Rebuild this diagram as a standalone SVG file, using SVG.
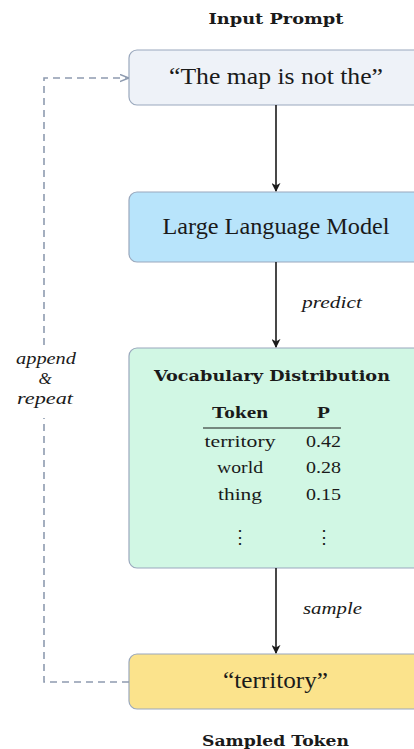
<svg xmlns="http://www.w3.org/2000/svg" width="414" height="749" viewBox="0 0 414 749">
<style>
text{font-family:"Liberation Serif","DejaVu Serif",serif;fill:#1a1a1a}
.lbl{font-family:"DejaVu Serif","Liberation Serif",serif;font-size:14px;font-weight:bold;text-anchor:middle}
.node{font-size:23px;text-anchor:middle}
.it{font-size:17px;font-style:italic}
.cell{font-size:17px;text-anchor:middle}
.dots{font-family:"DejaVu Serif",serif;font-size:18px;text-anchor:middle}
.box{stroke:#9aa8bd;stroke-width:1.2}
.edge{stroke:#1a1a1a;stroke-width:1.6;fill:none}
.loop{stroke:#8e9bb0;stroke-width:1.6;fill:none;stroke-dasharray:7 5}
</style>
<defs>
<marker id="ah" viewBox="0 0 10 10" refX="9" refY="5" markerWidth="9" markerHeight="9" markerUnits="userSpaceOnUse" orient="auto"><path d="M0,0 L10,5 L0,10 L3,5 Z" fill="#1a1a1a"/></marker>
<marker id="ahg" viewBox="0 0 10 10" refX="9" refY="5" markerWidth="9" markerHeight="9" markerUnits="userSpaceOnUse" orient="auto"><path d="M0,1 L10,5 L0,9" fill="none" stroke="#8e9bb0" stroke-width="1.6"/></marker>
</defs>
<text class="lbl" x="276" y="24" textLength="135" lengthAdjust="spacingAndGlyphs">Input Prompt</text>
<g id="prompt">
<rect class="box" x="129" y="50" width="300" height="55" rx="8" fill="#eef2f8"/>
<text class="node" x="276" y="84" textLength="214" lengthAdjust="spacingAndGlyphs">“The map is not the”</text>
</g>
<g id="llm">
<rect class="box" x="129" y="192" width="300" height="70" rx="8" fill="#b8e4fb"/>
<text class="node" x="276" y="234" textLength="227" lengthAdjust="spacingAndGlyphs">Large Language Model</text>
</g>
<g id="vocab">
<rect class="box" x="129" y="348" width="300" height="220" rx="8" fill="#d1f7e4"/>
<text class="lbl" x="272" y="381" textLength="236" lengthAdjust="spacingAndGlyphs">Vocabulary Distribution</text>
<text class="cell" x="240" y="418" font-weight="bold" textLength="56" lengthAdjust="spacingAndGlyphs">Token</text>
<text class="cell" x="323.5" y="418" font-weight="bold" textLength="13" lengthAdjust="spacingAndGlyphs">P</text>
<line x1="203" y1="428" x2="341" y2="428" stroke="#1a1a1a" stroke-width="1"/>
<text class="cell" x="240" y="447" textLength="71" lengthAdjust="spacingAndGlyphs">territory</text>
<text class="cell" x="323.5" y="447" textLength="35" lengthAdjust="spacingAndGlyphs">0.42</text>
<text class="cell" x="240" y="473" textLength="46" lengthAdjust="spacingAndGlyphs">world</text>
<text class="cell" x="323.5" y="473" textLength="35" lengthAdjust="spacingAndGlyphs">0.28</text>
<text class="cell" x="240" y="500" textLength="44" lengthAdjust="spacingAndGlyphs">thing</text>
<text class="cell" x="323.5" y="500" textLength="35" lengthAdjust="spacingAndGlyphs">0.15</text>
<text class="dots" x="240" y="543">⋮</text>
<text class="dots" x="323.5" y="543">⋮</text>
</g>
<g id="sampled">
<rect class="box" x="129" y="654" width="300" height="55" rx="8" fill="#fbe38c"/>
<text class="node" x="275.5" y="688" textLength="105" lengthAdjust="spacingAndGlyphs">“territory”</text>
</g>
<text class="lbl" x="275.5" y="746" textLength="147" lengthAdjust="spacingAndGlyphs">Sampled Token</text>
<g id="connectors">
<line class="edge" x1="276" y1="105" x2="276" y2="191" marker-end="url(#ah)"/>
<line class="edge" x1="276" y1="262" x2="276" y2="347" marker-end="url(#ah)"/>
<line class="edge" x1="276" y1="568" x2="276" y2="653" marker-end="url(#ah)"/>
<text class="it" x="302" y="308" textLength="60" lengthAdjust="spacingAndGlyphs">predict</text>
<text class="it" x="303" y="614" textLength="59" lengthAdjust="spacingAndGlyphs">sample</text>
<path class="loop" d="M129,682 H44 V418"/>
<path class="loop" d="M44,345 V78 H128" marker-end="url(#ahg)"/>
<text class="it" x="46" y="364" text-anchor="middle" textLength="60" lengthAdjust="spacingAndGlyphs">append</text>
<text class="it" x="45" y="384" text-anchor="middle">&amp;</text>
<text class="it" x="45" y="404" text-anchor="middle" textLength="56" lengthAdjust="spacingAndGlyphs">repeat</text>
</g>
</svg>
